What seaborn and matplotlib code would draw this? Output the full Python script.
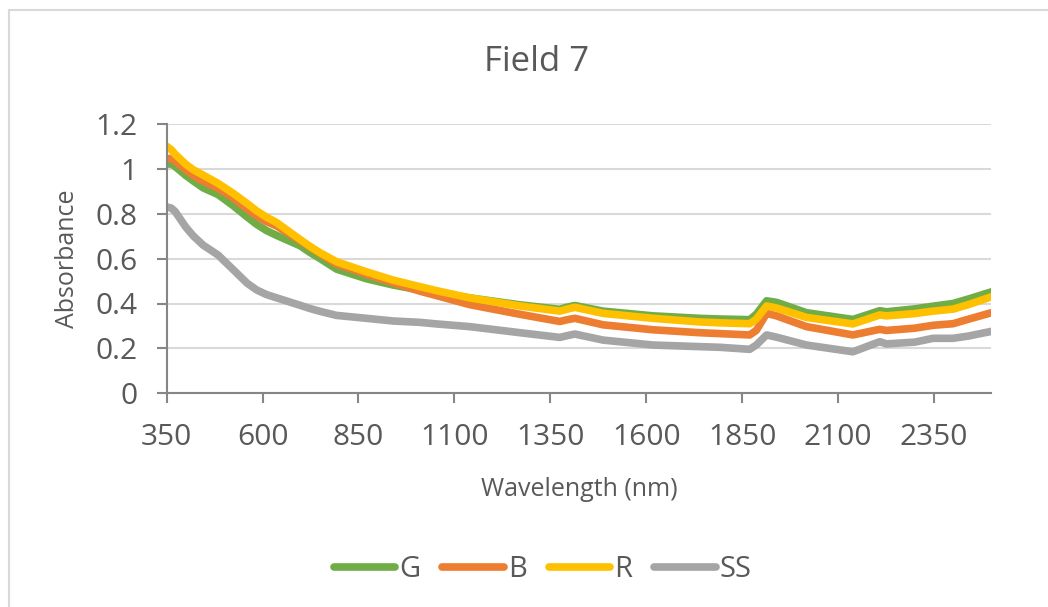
import matplotlib
matplotlib.use("Agg")
import matplotlib.pyplot as plt
import seaborn as sns
import pandas as pd
from matplotlib.lines import Line2D
from matplotlib.patches import Rectangle

wavelength = [350, 362, 372, 400, 420, 445, 484, 524, 560, 585, 610, 637, 698, 723, 750, 793,
              871, 941, 1010, 1054, 1140, 1271, 1375, 1392, 1414, 1488, 1618, 1739, 1792,
              1870, 1887, 1914, 1940, 2018, 2139, 2209, 2226, 2300, 2348, 2400, 2440, 2500]

G = [1.02, 1.022, 1.01, 0.97, 0.945, 0.915, 0.885, 0.835, 0.785, 0.752, 0.725, 0.703, 0.657,
     0.628, 0.6, 0.553, 0.51, 0.482, 0.46, 0.448, 0.425, 0.394, 0.374, 0.383, 0.391, 0.366,
     0.345, 0.334, 0.331, 0.328, 0.352, 0.412, 0.405, 0.359, 0.329, 0.368, 0.363, 0.376,
     0.388, 0.40, 0.42, 0.452]
B = [1.046, 1.045, 1.035, 0.995, 0.97, 0.945, 0.913, 0.87, 0.82, 0.79, 0.765, 0.745, 0.68,
     0.652, 0.622, 0.576, 0.53, 0.492, 0.455, 0.435, 0.395, 0.352, 0.32, 0.327, 0.334, 0.305,
     0.283, 0.27, 0.266, 0.26, 0.28, 0.356, 0.345, 0.297, 0.26, 0.285, 0.28, 0.29, 0.303,
     0.31, 0.33, 0.359]
R = [1.10, 1.085, 1.065, 1.02, 0.995, 0.972, 0.935, 0.89, 0.845, 0.812, 0.785, 0.76, 0.685,
     0.655, 0.626, 0.586, 0.541, 0.504, 0.475, 0.457, 0.425, 0.389, 0.366, 0.374, 0.383,
     0.356, 0.334, 0.318, 0.314, 0.31, 0.33, 0.389, 0.38, 0.338, 0.309, 0.349, 0.345, 0.355,
     0.366, 0.375, 0.395, 0.43]
SS = [0.83, 0.825, 0.81, 0.74, 0.70, 0.66, 0.616, 0.55, 0.49, 0.46, 0.44, 0.425, 0.392,
      0.378, 0.365, 0.347, 0.334, 0.322, 0.316, 0.309, 0.297, 0.27, 0.249, 0.256, 0.264,
      0.237, 0.215, 0.208, 0.205, 0.196, 0.215, 0.26, 0.25, 0.215, 0.185, 0.23, 0.22, 0.228,
      0.245, 0.245, 0.255, 0.276]

series_names = ["G", "B", "R", "SS"]
series_colors = ["#70AD47", "#ED7D31", "#FFC000", "#A5A5A5"]
x_ticks = [350, 600, 850, 1100, 1350, 1600, 1850, 2100, 2350]
y_ticks = [0, 0.2, 0.4, 0.6, 0.8, 1.0, 1.2]
y_tick_labels = ["0", "0.2", "0.4", "0.6", "0.8", "1", "1.2"]

rows = []
for name, vals in zip(series_names, [G, B, R, SS]):
    for w, v in zip(wavelength, vals):
        rows.append({"Wavelength": w, "Absorbance": v, "Series": name})
df = pd.DataFrame(rows)

sns.set_theme(style="white")
plt.rcParams["font.family"] = ["Open Sans", "DejaVu Sans"]
text_color = "#595959"

fig = plt.figure(figsize=(10.48, 6.07), dpi=100)
fig.add_artist(Rectangle((9 / 1048, -0.1), 1.2, 1.1 - 10 / 607, transform=fig.transFigure,
                         fill=False, edgecolor="#D9D9D9", linewidth=1.5))
ax = fig.add_axes([0.159, 0.352, 0.787, 0.444])

palette = dict(zip(series_names, series_colors))
sns.lineplot(data=df, x="Wavelength", y="Absorbance", hue="Series", hue_order=series_names,
             palette=palette, linewidth=5.5, ax=ax, legend=False, sort=False)
for ln in ax.get_lines():
    ln.set_solid_capstyle("round")
    ln.set_solid_joinstyle("round")

ax.set_xlim(350, 2500)
ax.set_ylim(0, 1.2)
ax.set_xticks(x_ticks)
ax.set_xticklabels([str(t) for t in x_ticks])
ax.set_yticks(y_ticks)
ax.set_yticklabels(y_tick_labels)
ax.yaxis.grid(True, color="#D9D9D9", linewidth=1.5)
ax.xaxis.grid(False)
ax.set_axisbelow(True)
for s in ["top", "right"]:
    ax.spines[s].set_visible(False)
for s in ["left", "bottom"]:
    ax.spines[s].set_color("#868686")
    ax.spines[s].set_linewidth(1.5)
ax.tick_params(axis="both", which="major", direction="out", length=7, width=1.5,
               color="#868686", labelsize=21.5, labelcolor=text_color, pad=14,
               bottom=True, left=True)
ax.set_xlabel("Wavelength (nm)", fontsize=18, color=text_color, labelpad=18)
ax.set_ylabel("Absorbance", fontsize=18, color=text_color, labelpad=11)

fig.text(0.512, 0.898, "Field 7", ha="center", va="center", fontsize=25, color=text_color)

handles = [Line2D([0], [0], color=c, lw=5.5, solid_capstyle="round") for c in series_colors]
leg = fig.legend(handles, series_names, loc="center", bbox_to_anchor=(0.518, 0.061), ncol=4,
                 frameon=False, fontsize=21, handlelength=2.1, handletextpad=0.15,
                 columnspacing=0.75, labelcolor=text_color)

fig.savefig("out.png", dpi=100)
